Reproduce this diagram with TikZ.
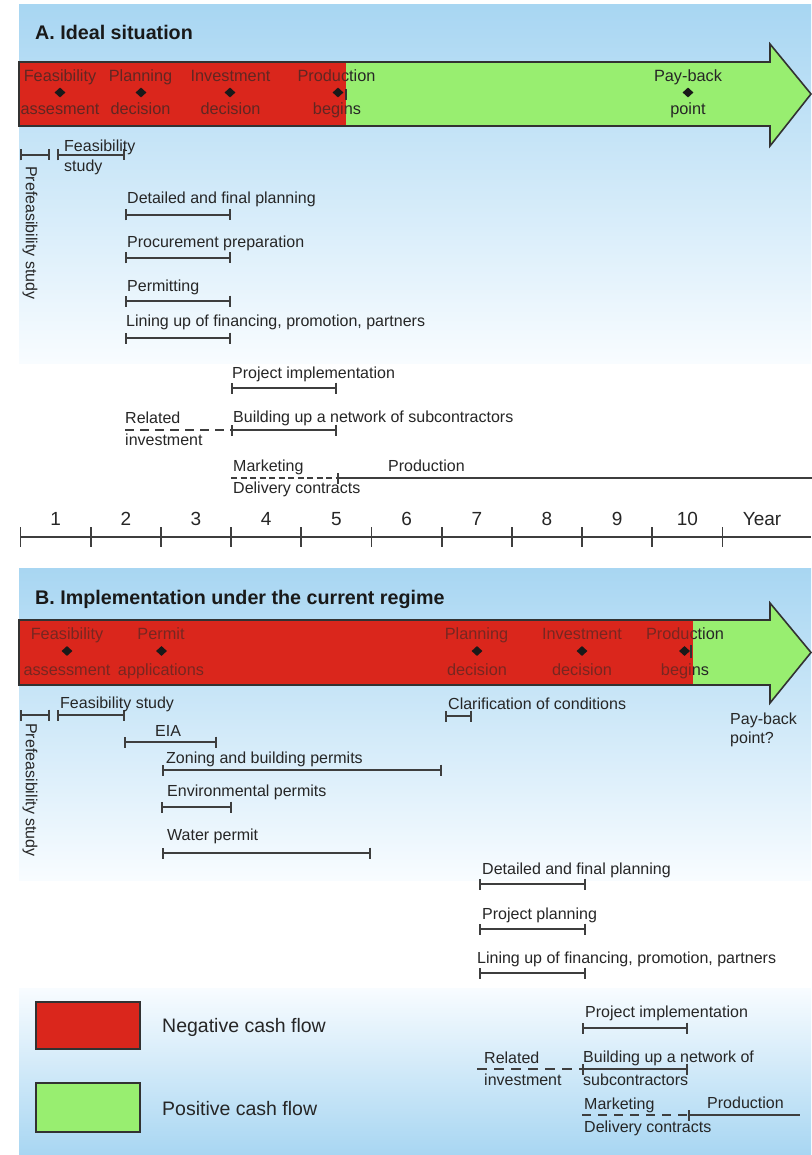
\documentclass[tikz,border=0pt]{standalone}
\usepackage{fontspec}
\setmainfont{Liberation Sans}
\usetikzlibrary{arrows.meta,shapes.geometric}
\definecolor{bgblue}{RGB}{168,214,242}
\definecolor{bgwhite}{RGB}{248,252,255}
\definecolor{negred}{RGB}{218,38,28}
\definecolor{posgreen}{RGB}{152,238,112}
\definecolor{ink}{RGB}{38,38,38}
\definecolor{barink}{RGB}{62,62,62}
\definecolor{edge}{RGB}{50,50,50}
\tikzset{
  lbl/.style={font=\fontsize{16}{18}\selectfont, text=ink, inner sep=0pt, anchor=west, text height=11.5pt, text depth=0pt},
  mlbl/.style={font=\fontsize{16.3}{18}\selectfont, text=ink, inner sep=0pt, text height=11.7pt, text depth=0pt},
  vlbl/.style={lbl, anchor=center, rotate=-90},
  ttl/.style={font=\bfseries\fontsize{19.7}{22}\selectfont, text=black!90, inner sep=0pt, anchor=west, text height=14pt, text depth=0pt},
  axl/.style={font=\fontsize{19}{22}\selectfont, text=ink, inner sep=0pt, text height=13.6pt, text depth=0pt},
  legl/.style={font=\fontsize{19.5}{22}\selectfont, text=ink, inner sep=0pt, anchor=west, text height=14pt, text depth=0pt},
  bar/.style={draw=barink, line width=1.8pt, {Bar[width=11pt]}-{Bar[width=11pt]}},
  lbar/.style={draw=barink, line width=1.8pt, {Bar[width=11pt]}-},
  dbar/.style={draw=barink, line width=1.5pt, dash pattern=on 9pt off 6pt},
  dbarfine/.style={draw=barink, line width=1.4pt, dash pattern=on 6pt off 3.5pt},
  dmd/.style={shape=diamond, fill=black!90, inner sep=0pt, minimum width=11pt, minimum height=10pt},
  outline/.style={draw=edge, line width=1.6pt, line join=miter},
  legbox/.style={draw=edge, line width=1.4pt},
  axis/.style={draw=barink, line width=1.8pt},
  panelfade/.style={top color=bgblue, middle color=bgblue!35!bgwhite, bottom color=bgwhite},
}
\begin{document}
\begin{tikzpicture}[x=1pt,y=-1pt]
\useasboundingbox (0,0) rectangle (811,1155);
\fill[white] (0,0) rectangle (811,1155);
% backgrounds
\fill[panelfade] (19,5) rectangle (811,363);
\fill[panelfade] (19,568) rectangle (811,880);
\fill[top color=bgwhite, middle color=bgblue!35!bgwhite, bottom color=bgblue] (19,988) rectangle (811,1155);

% ================= Panel A =================
\node[ttl] (titleA) at (35,33) {A. Ideal situation};
\fill[posgreen] (19,62) -- (770,62) -- (770,44) -- (811,94) -- (770,146) -- (770,126) -- (19,126) -- cycle;
\fill[negred] (19,62) rectangle (346,126);
\node[mlbl] (a1t) at (60,76) {Feasibility};
\node[mlbl] (a1b) at (60,109) {assesment};
\node[mlbl] (a2t) at (140.5,76) {Planning};
\node[mlbl] (a2b) at (140.5,109) {decision};
\node[mlbl] (a3t) at (230.5,76) {Investment};
\node[mlbl] (a3b) at (230.5,109) {decision};
\node[mlbl] (a4t) at (336.5,76) {Production};
\node[mlbl] (a4b) at (337,109) {begins};
\node[mlbl] (a5t) at (688,76) {Pay-back};
\node[mlbl] (a5b) at (688,109) {point};
\fill[negred, fill opacity=0.33] (19,62) rectangle (346,126);
\node[dmd] (ad1) at (60,92.5) {};
\node[dmd] (ad2) at (141,92.5) {};
\node[dmd] (ad3) at (230,92.5) {};
\node[dmd] (ad4) at (338,92.5) {};
\node[dmd] (ad5) at (688,92.5) {};
\draw[edge, line width=1.4pt] (346,89) -- (346,100);
\draw[outline] (19,62) -- (770,62) -- (770,44) -- (811,94) -- (770,146) -- (770,126) -- (19,126) -- cycle;

% activities A
\draw[bar] (20,155) -- (50,155);
\draw[bar] (57,155) -- (125,155);
\node[lbl] (aFs1) at (64,146) {Feasibility};
\node[lbl] (aFs2) at (64,166) {study};
\node[vlbl] (aPre) at (31.5,233) {Prefeasibility study};
\node[lbl] (aDet) at (127,198) {Detailed and final planning};
\draw[bar] (125,215) -- (231,215);
\node[lbl] (aProc) at (127,242) {Procurement preparation};
\draw[bar] (125,258) -- (231,258);
\node[lbl] (aPerm) at (127,286) {Permitting};
\draw[bar] (125,301) -- (231,301);
\node[lbl] (aLin) at (126,321) {Lining up of financing, promotion, partners};
\draw[bar] (125,338) -- (231,338);
\node[lbl] (aImp) at (232,373) {Project implementation};
\draw[bar] (231,388) -- (337,388);
\node[lbl] (aRel1) at (125,418) {Related};
\node[lbl] (aRel2) at (125,440) {investment};
\draw[dbar] (125,430) -- (231,430);
\node[lbl] (aNet) at (233,417) {Building up a network of subcontractors};
\draw[bar] (231,430) -- (337,430);
\node[lbl] (aMk1) at (233,466) {Marketing};
\node[lbl] (aMk2) at (233,488) {Delivery contracts};
\draw[dbarfine] (231,478) -- (337,478);
\node[lbl] (aProd) at (388,466) {Production};
\draw[lbar] (337,478) -- (812,478);

% axis
\draw[axis] (20.5,537) -- (811,537);
\foreach \k in {0,...,10} {
  \draw[axis] ({20.5+70.2*\k},527) -- ({20.5+70.2*\k},547);
}
\foreach \n in {1,...,10} {
  \node[axl] (yr\n) at ({20.5+70.2*(\n-0.5)},519) {\n};
}
\node[axl] (yrY) at (762,519) {Year};

% ================= Panel B =================
\node[ttl] (titleB) at (35,597) {B. Implementation under the current regime};
\fill[posgreen] (19,620) -- (770,620) -- (770,603) -- (811,652.5) -- (770,703) -- (770,685) -- (19,685) -- cycle;
\fill[negred] (19,620) rectangle (692.5,685);
\node[mlbl] (b1t) at (67,634) {Feasibility};
\node[mlbl] (b1b) at (67,670) {assessment};
\node[mlbl] (b2t) at (161,634) {Permit};
\node[mlbl] (b2b) at (161,670) {applications};
\node[mlbl] (b3t) at (476.5,634) {Planning};
\node[mlbl] (b3b) at (477,670) {decision};
\node[mlbl] (b4t) at (582,634) {Investment};
\node[mlbl] (b4b) at (582,670) {decision};
\node[mlbl] (b5t) at (685,634) {Production};
\node[mlbl] (b5b) at (685,670) {begins};
\fill[negred, fill opacity=0.45] (19,620) rectangle (692.5,685);
\node[dmd] (bd1) at (67,651) {};
\node[dmd] (bd2) at (161.5,651) {};
\node[dmd] (bd3) at (477,651) {};
\node[dmd] (bd4) at (582,651) {};
\node[dmd] (bd5) at (684.5,651) {};
\draw[edge, line width=1.4pt] (691,645) -- (691,658);
\draw[outline] (19,620) -- (770,620) -- (770,603) -- (811,652.5) -- (770,703) -- (770,685) -- (19,685) -- cycle;

\node[lbl] (bPay1) at (730,719) {Pay-back};
\node[lbl] (bPay2) at (730,738) {point?};

\draw[bar] (20,715) -- (50,715);
\draw[bar] (57,715) -- (125,715);
\node[lbl] (bFs) at (60,703) {Feasibility study};
\node[vlbl] (bPre) at (31.5,790) {Prefeasibility study};
\node[lbl] (bEIA) at (155,731) {EIA};
\draw[bar] (124,742) -- (217,742);
\node[lbl] (bZon) at (166,758) {Zoning and building permits};
\draw[bar] (162,770) -- (442,770);
\node[lbl] (bEnv) at (167,791) {Environmental permits};
\draw[bar] (161,807) -- (232,807);
\node[lbl] (bWat) at (167,835) {Water permit};
\draw[bar] (162,853) -- (371,853);
\node[lbl] (bCla) at (448,704) {Clarification of conditions};
\draw[bar] (445,716) -- (472,716);

\node[lbl] (bDet) at (482,869) {Detailed and final planning};
\draw[bar] (479,884) -- (586,884);
\node[lbl] (bPlan) at (482,914) {Project planning};
\draw[bar] (479,929) -- (586,929);
\node[lbl] (bLin) at (477,958) {Lining up of financing, promotion, partners};
\draw[bar] (479,973) -- (586,973);
\node[lbl] (bImp) at (585,1012) {Project implementation};
\draw[bar] (582,1028) -- (688,1028);
\node[lbl] (bRel1) at (484,1058) {Related};
\node[lbl] (bRel2) at (484,1080) {investment};
\draw[dbar, dash pattern=on 10pt off 7pt] (477,1069) -- (582,1069);
\node[lbl] (bNet1) at (583,1057) {Building up a network of};
\node[lbl] (bNet2) at (583,1080) {subcontractors};
\draw[bar] (582,1069) -- (688,1069);
\node[lbl] (bMk1) at (584,1104) {Marketing};
\node[lbl] (bMk2) at (584,1127) {Delivery contracts};
\draw[dbar, dash pattern=on 9pt off 7pt] (582,1115) -- (688,1115);
\node[lbl] (bProd) at (707,1103) {Production};
\draw[lbar] (688,1115) -- (800,1115);

% legend
\draw[legbox, fill=negred] (36,1002) rectangle (140,1049);
\node[legl] (legN) at (162,1025) {Negative cash flow};
\draw[legbox, fill=posgreen] (36,1083) rectangle (140,1132);
\node[legl] (legP) at (162,1108) {Positive cash flow};
\end{tikzpicture}
\end{document}
